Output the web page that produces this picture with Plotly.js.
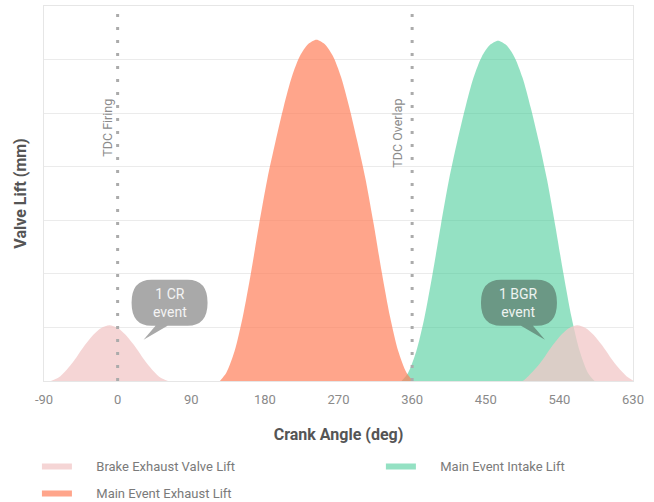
<!DOCTYPE html>
<html>
<head>
<meta charset="utf-8">
<script src="https://cdn.plot.ly/plotly-3.0.1.min.js"></script>
<style>html,body{margin:0;padding:0;background:#fff;}#chart{width:654px;height:502px;}</style>
</head>
<body>
<div id="chart"></div>
<script>
// Crank angle ticks
const tickAngles = [-90, 0, 90, 180, 270, 360, 450, 540, 630];

// Brake exhaust valve lift (two small events)
const brakeAngle = [-90, -82, -70, -60, -50, -40, -30, -20, -10, 0, 10, 20, 30, 40, 50, 62, 70,
                    490, 495, 502, 512, 522, 532, 542, 552, 562, 572, 582, 592, 602, 612, 622, 630];
const brakeLift  = [0, 0, 0.09, 0.25, 0.45, 0.67, 0.86, 0.99, 1.04, 0.99, 0.86, 0.67, 0.45, 0.25, 0.09, 0, 0,
                    0, 0, 0.09, 0.25, 0.45, 0.67, 0.86, 0.99, 1.04, 0.99, 0.86, 0.67, 0.45, 0.25, 0.09, 0.01];

// Main event exhaust lift
const exhaustAngle = [125, 133, 143, 153, 163, 173, 183, 193, 203, 213, 223, 233, 243, 253, 263, 273, 283, 293, 303, 313, 323, 333, 343, 353, 361];
const exhaustLift  = [0, 0.16, 0.56, 1.2, 2.02, 2.93, 3.77, 4.47, 5.12, 5.68, 6.07, 6.29, 6.37, 6.29, 6.07, 5.68, 5.12, 4.47, 3.77, 2.93, 2.02, 1.2, 0.56, 0.16, 0];

// Main event intake lift
const intakeAngle = [347, 355, 365, 375, 385, 395, 405, 415, 425, 435, 445, 455, 465, 475, 485, 495, 505, 515, 525, 535, 545, 555, 565, 575, 583];
const intakeLift  = [0, 0.15, 0.55, 1.18, 2.0, 2.9, 3.75, 4.46, 5.1, 5.66, 6.05, 6.27, 6.35, 6.27, 6.05, 5.66, 5.1, 4.46, 3.75, 2.9, 2.0, 1.18, 0.55, 0.15, 0];

const seriesNames = ['Brake Exhaust Valve Lift', 'Main Event Exhaust Lift', 'Main Event Intake Lift'];
const tdcAngles = [0, 360];
const tdcLabels = ['TDC Firing', 'TDC Overlap'];
const bubbleLabels = ['1 CR<br>event', '1 BGR<br>event'];

const pad = '\u00a0\u00a0\u00a0\u00a0\u00a0\u00a0';
const FONT = 'Roboto, "Open Sans", sans-serif';

const traces = [
  {
    x: intakeAngle, y: intakeLift, name: pad + seriesNames[2], type: 'scatter', mode: 'lines',
    fill: 'tozeroy', fillcolor: 'rgba(60,200,145,0.55)', line: {width: 0, shape: 'spline', smoothing: 0.8},
    legend: 'legend2', legendgroup: 'c', hoverinfo: 'skip'
  },
  {
    x: exhaustAngle, y: exhaustLift, name: pad + seriesNames[1], type: 'scatter', mode: 'lines',
    fill: 'tozeroy', fillcolor: 'rgba(255,127,90,0.7)', line: {width: 0, shape: 'spline', smoothing: 0.8},
    legend: 'legend', legendgroup: 'b', legendrank: 2, hoverinfo: 'skip'
  },
  {
    x: brakeAngle, y: brakeLift, name: pad + seriesNames[0], type: 'scatter', mode: 'lines',
    fill: 'tozeroy', fillcolor: 'rgba(242,200,200,0.76)', line: {width: 0, shape: 'spline', smoothing: 0.8},
    legend: 'legend', legendgroup: 'a', legendrank: 1, hoverinfo: 'skip'
  }
];

const crPath = 'M-18,23 L18,23 Q38,23 38,0 Q38,-23 18,-23 L-2,-23 L-26,-37 L-14,-23 L-18,-23 Q-38,-23 -38,0 Q-38,23 -18,23 Z';
const bgrPath = 'M-18,23 L18,23 Q38,23 38,0 Q38,-23 18,-23 L14,-23 L26,-37 L2,-23 L-18,-23 Q-38,-23 -38,0 Q-38,23 -18,23 Z';

const shapes = tdcAngles.map(a => ({
  type: 'line', xref: 'x', yref: 'paper', x0: a, x1: a, y0: 0, y1: 1,
  line: {color: '#ababab', width: 3, dash: '3px,10px'}, layer: 'above'
}));
shapes.push({type: 'path', xref: 'x', yref: 'y', xsizemode: 'pixel', ysizemode: 'pixel',
  xanchor: 63.5, yanchor: 1.46, path: crPath, fillcolor: '#a9a9a9', line: {width: 0}, layer: 'above'});
shapes.push({type: 'path', xref: 'x', yref: 'y', xsizemode: 'pixel', ysizemode: 'pixel',
  xanchor: 490.6, yanchor: 1.46, path: bgrPath, fillcolor: '#6b9885', line: {width: 0}, layer: 'above'});

const annotations = [
  {x: tdcAngles[0], y: 0.757, xref: 'x', yref: 'paper', text: tdcLabels[0], showarrow: false, textangle: -90,
   xshift: -11, font: {family: FONT, size: 12.5, color: '#8c8c8c'}},
  {x: tdcAngles[1], y: 0.757, xref: 'x', yref: 'paper', text: tdcLabels[1], showarrow: false, textangle: -90,
   xshift: -15, font: {family: FONT, size: 12.5, color: '#8c8c8c'}},
  {x: 63.5, y: 1.46, xref: 'x', yref: 'y', text: bubbleLabels[0], showarrow: false,
   font: {family: FONT, size: 14, color: '#f4f4f4'}},
  {x: 490.6, y: 1.46, xref: 'x', yref: 'y', text: bubbleLabels[1], showarrow: false,
   font: {family: FONT, size: 14, color: '#eef3f0'}}
];

const layout = {
  width: 654, height: 502,
  margin: {l: 44, r: 21, t: 6, b: 121, autoexpand: false},
  paper_bgcolor: '#ffffff', plot_bgcolor: '#ffffff',
  font: {family: FONT, color: '#7a7a7a'},
  showlegend: true,
  xaxis: {
    range: [-90, 630], tickmode: 'array', tickvals: tickAngles, ticktext: tickAngles.map(String),
    showgrid: false, zeroline: false, showline: true, mirror: true, linecolor: '#e6e6e6', linewidth: 1,
    ticks: '', ticklabelstandoff: 6, tickfont: {family: FONT, size: 13, color: '#8a8a8a'},
    title: {text: 'Crank Angle (deg)', font: {family: FONT, size: 16, color: '#555555', weight: 'bold'}, standoff: 23}
  },
  yaxis: {
    range: [0, 7], dtick: 1, showticklabels: false, ticks: '',
    showgrid: true, gridcolor: '#ebebeb', zeroline: false, showline: true, mirror: true, linecolor: '#e6e6e6',
    title: {text: 'Valve Lift (mm)', font: {family: FONT, size: 16, color: '#555555', weight: 'bold'}, standoff: 12}
  },
  legend: {x: -0.012, y: 0.1024, yref: 'container', xanchor: 'left', yanchor: 'top', orientation: 'v',
    font: {family: FONT, size: 13, color: '#7a7a7a'}, tracegroupgap: 7, bgcolor: 'rgba(0,0,0,0)'},
  legend2: {x: 0.572, y: 0.1024, yref: 'container', xanchor: 'left', yanchor: 'top', orientation: 'v',
    font: {family: FONT, size: 13, color: '#7a7a7a'}, bgcolor: 'rgba(0,0,0,0)'},
  shapes: shapes,
  annotations: annotations
};

Plotly.newPlot('chart', traces, layout, {displayModeBar: false, staticPlot: true});
</script>
</body>
</html>
